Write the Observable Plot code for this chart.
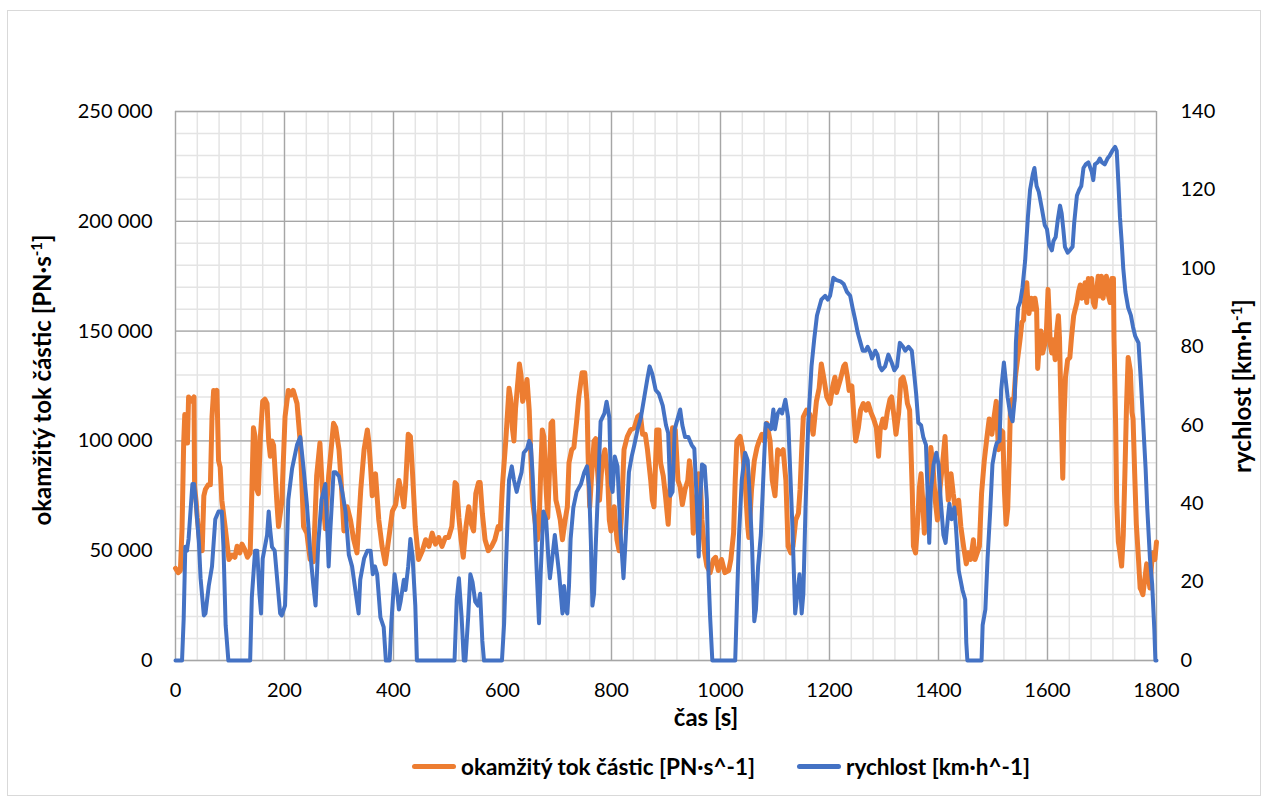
<!DOCTYPE html>
<html><head><meta charset="utf-8">
<script src="https://cdn.jsdelivr.net/npm/d3@7"></script>
<script src="https://cdn.jsdelivr.net/npm/@observablehq/plot@0.6"></script>
<style>
body{margin:0;background:#fff;font-family:Lato,"Open Sans",sans-serif;}
#wrap{position:relative;width:1263px;height:798px;overflow:hidden;}
#frame{position:absolute;left:7px;top:10px;width:1254px;height:786px;border:1px solid #d9d9d9;box-sizing:border-box;}
#chart{position:absolute;left:0;top:0;}
#legend{position:absolute;left:412px;top:752px;height:28px;display:flex;align-items:center;font-weight:bold;font-size:22.5px;color:#000;white-space:nowrap;}
#legend .sw{display:inline-block;width:44px;height:5px;border-radius:2.5px;margin-right:5px;}
#legend .item{display:flex;align-items:center;margin-right:42px;}
</style>
</head><body>
<div id="wrap"><div id="frame"></div><div id="chart"></div>
<div id="legend">
<div class="item"><span class="sw" style="background:#ED7D31"></span><span>okamžitý tok částic [PN·s^-1]</span></div>
<div class="item"><span class="sw" style="background:#4472C4"></span><span>rychlost [km·h^-1]</span></div>
</div></div>
<script>
// ---- data: okamžitý tok částic [PN·s^-1] ----
const flowT = [0,5,9,12,15,17,21,22,24,28,34,35,38,40,46,49,52,55,60,64,67,70,73,76,79,82,85,91,98,104,109,113,118,122,128,132,137,140,143,146,149,152,156,160,164,168,171,174,177,180,186,189,195,201,207,212,216,223,229,235,241,247,253,259,265,269,272,275,281,290,294,300,303,306,309,315,321,327,333,340,346,352,355,358,361,364,367,373,379,385,391,398,404,410,416,419,422,427,431,435,440,446,453,459,465,471,477,483,489,495,501,507,513,516,520,524,528,533,538,543,547,551,556,559,563,568,574,580,586,592,596,600,606,612,615,618,621,624,631,634,637,640,645,649,652,655,658,664,667,670,673,676,680,683,686,689,692,695,698,701,706,710,715,719,722,727,731,736,740,746,751,755,757,760,763,768,771,774,778,783,788,793,796,799,805,810,814,818,823,829,835,842,848,853,857,862,866,872,875,878,883,887,890,895,899,904,908,912,917,922,926,930,935,940,943,946,950,955,960,963,966,971,975,981,987,991,996,1002,1008,1015,1019,1024,1027,1030,1036,1040,1045,1050,1052,1057,1062,1067,1071,1076,1080,1085,1091,1095,1100,1105,1109,1115,1120,1124,1129,1133,1138,1143,1146,1149,1152,1158,1164,1170,1176,1181,1185,1190,1195,1201,1206,1210,1213,1220,1226,1229,1233,1236,1241,1245,1248,1253,1257,1262,1267,1271,1276,1281,1286,1290,1293,1298,1302,1306,1311,1314,1319,1322,1327,1331,1335,1339,1343,1347,1349,1352,1354,1358,1362,1365,1368,1371,1374,1377,1382,1386,1390,1394,1398,1403,1408,1412,1415,1418,1423,1427,1432,1437,1441,1446,1451,1455,1459,1464,1467,1471,1475,1479,1484,1489,1493,1498,1502,1506,1510,1514,1518,1521,1524,1527,1530,1532,1535,1538,1541,1544,1547,1550,1553,1556,1559,1562,1564,1566,1570,1574,1577,1580,1582,1585,1588,1591,1595,1598,1601,1603,1605,1608,1611,1614,1617,1620,1622,1625,1628,1630,1633,1637,1641,1644,1648,1651,1654,1657,1660,1663,1666,1669,1672,1675,1678,1681,1684,1687,1690,1693,1696,1699,1702,1705,1708,1712,1715,1718,1721,1722,1725,1727,1730,1733,1736,1739,1742,1745,1748,1752,1755,1757,1760,1763,1767,1770,1772,1775,1779,1782,1785,1788,1791,1794,1797,1800];
const flowV = [42000,40000,41000,60000,99000,112000,110000,99000,120000,118000,120000,79000,72000,65000,50000,50000,75000,78000,80000,80000,111000,123000,122000,123000,91000,88000,73000,61000,46000,48000,47000,52000,49000,53000,50000,47000,49000,76000,106000,102000,78000,76000,103000,118000,119000,117000,100000,93000,100000,98000,72000,61000,72000,111000,123000,121000,123000,117000,99000,61000,58000,46000,45000,84000,99000,80000,69000,60000,84000,108000,106000,96000,85000,73000,59000,70000,64000,55000,49000,78000,96000,105000,99000,88000,75000,82000,85000,64000,52000,44000,55000,68000,71000,82000,75000,70000,79000,103000,102000,85000,61000,46000,50000,55000,52000,58000,53000,56000,52000,56000,56000,61000,81000,80000,65000,55000,47000,61000,70000,62000,59000,76000,81000,81000,67000,55000,50000,52000,55000,61000,60000,80000,100000,124000,119000,106000,100000,115000,135000,130000,118000,121000,128000,114000,93000,73000,67000,55000,61000,85000,105000,102000,78000,65000,85000,108000,109000,88000,73000,70000,64000,55000,64000,70000,90000,96000,97000,109000,120000,131000,131000,118000,94000,70000,82000,100000,101000,88000,73000,91000,96000,84000,64000,59000,70000,55000,50000,65000,96000,102000,105000,106000,111000,112000,103000,103000,96000,82000,73000,70000,105000,105000,90000,84000,75000,62000,82000,106000,105000,82000,79000,71000,78000,82000,91000,85000,58000,70000,85000,82000,64000,49000,43000,40000,46000,47000,41000,46000,40000,41000,46000,58000,82000,100000,102000,97000,82000,61000,56000,78000,91000,97000,100000,103000,100000,108000,100000,82000,75000,96000,94000,96000,82000,52000,49000,52000,64000,67000,78000,96000,111000,114000,112000,103000,118000,124000,135000,128000,120000,117000,125000,129000,122000,128000,134000,135000,129000,123000,125000,110000,100000,106000,114000,117000,114000,117000,113000,110000,106000,93000,105000,110000,106000,113000,119000,120000,110000,103000,113000,128000,129000,125000,117000,114000,100000,76000,52000,49000,64000,79000,85000,73000,58000,67000,78000,97000,88000,73000,64000,79000,91000,102000,85000,73000,85000,76000,67000,73000,61000,52000,44000,49000,46000,55000,46000,49000,52000,76000,91000,102000,110000,103000,111000,118000,96000,105000,104000,77000,62000,69000,93000,116000,119000,118000,129000,135000,141000,147000,154000,155000,168000,172000,163000,158000,165000,160000,165000,160000,133000,144000,150000,140000,144000,150000,169000,158000,144000,140000,146000,137000,150000,157000,147000,113000,83000,108000,129000,137000,138000,147000,157000,160000,163000,168000,171000,165000,168000,172000,163000,174000,166000,174000,163000,161000,168000,175000,166000,175000,165000,171000,175000,166000,163000,174000,174000,147000,108000,72000,54000,49000,43000,57000,85000,116000,138000,132000,113000,110000,85000,62000,46000,33000,32000,30000,38000,44000,38000,33000,44000,49000,46000,54000];
// ---- data: rychlost [km·h^-1] ----
const speedT = [0,12,15,18,21,24,31,34,37,43,46,52,55,61,67,73,79,85,88,92,97,137,140,146,150,154,157,160,168,171,174,177,182,187,192,195,201,207,214,223,229,235,241,247,253,257,262,268,275,278,281,284,290,294,300,306,312,318,324,330,336,339,346,352,358,362,366,370,376,382,386,393,396,402,407,410,413,419,422,427,431,435,440,443,512,516,520,525,529,532,537,541,545,550,555,559,563,566,599,603,608,612,617,621,626,631,635,639,645,649,652,655,658,663,667,670,675,680,684,687,692,696,700,704,710,713,716,719,722,725,730,736,744,750,755,759,762,765,768,771,776,780,787,791,796,799,802,806,811,816,822,826,832,837,842,848,854,860,866,870,875,881,887,894,900,904,908,912,916,922,926,930,935,941,947,952,957,960,963,966,971,975,978,981,985,1027,1030,1034,1039,1045,1050,1054,1058,1062,1065,1069,1074,1079,1083,1088,1093,1097,1100,1105,1109,1113,1119,1124,1128,1132,1137,1141,1145,1149,1152,1156,1161,1167,1172,1177,1185,1192,1197,1201,1207,1213,1220,1226,1232,1238,1243,1247,1252,1257,1261,1266,1270,1275,1278,1284,1288,1292,1296,1302,1308,1314,1319,1324,1329,1335,1339,1345,1351,1354,1359,1363,1368,1372,1377,1380,1383,1386,1391,1396,1400,1404,1409,1413,1417,1420,1424,1429,1432,1437,1444,1449,1451,1453,1479,1481,1486,1490,1495,1499,1504,1507,1512,1515,1520,1523,1527,1532,1536,1540,1542,1546,1550,1554,1559,1564,1568,1573,1576,1580,1584,1590,1595,1599,1603,1608,1611,1615,1619,1623,1626,1629,1632,1637,1641,1646,1649,1654,1658,1662,1666,1670,1675,1681,1684,1687,1692,1696,1700,1705,1710,1714,1719,1724,1727,1730,1733,1736,1739,1743,1748,1753,1757,1761,1767,1771,1775,1780,1783,1788,1792,1796,1798,1800];
const speedV = [0,0,10.6,29,28,31,45,45,41,30,21,11.5,12,19,24,36,38,38,29,9,0,0,16,28,28,17,12,26,32,38,33,29,28,20,12,11.5,14,41,49,55,57,49,40,28,19,14,30,41,45,35,24,33,48,48,47,43,38,27,24,18,12,20.6,26,28,28,22,24,22,11,8.5,0,0,9.5,22,17,13,15,20.6,18,24,31,26.5,14,0,0,15.5,21,11,0,0,11,22,20,15,14,17,5,0,0,9.5,31,46,49.5,46,43,46,48,53,54,56,55,48,39,22,9.5,22,38,36,26.5,21,27,32,27,22,12,19,13,12,19,31,39,43,45,48,49.5,44,31,14,17,29,46,61,63,66,62,45,43,52,49.5,34,21,31,48,52,55,59,62,67,72,75,73,69,68,65,60,58,42,43,59,62,64,60,57,57,55,54,39,26.5,41,50,49.5,41,22,11,0,0,14,32,46,53,51,41,29,10,13,24,32,48,60.5,60,59,64,59,63,64,63,66.5,62,48,34,12,17,22,12,17,39,60.5,75,82,88,92,93,92,93,97.6,97,96.7,96,94,93,89.5,87,83.5,81,79,79,80,78.5,77,79,78,75,74,75,78,76,74,75,81,80,79,80,79,75,68,60.6,60,57,55,43,30,43,50,53,50,41,32,30,36,40,36,39,34,23,18,15.5,4.5,0,0,9,13,26,38.5,50,54,55.5,56,69,76,72,67,62.5,61,67,81,90,91.5,95,102,113,120,124,125.6,121,119.5,115,111,110,106,104.6,107,108,112.5,116,114,110,105.5,104,104.6,105.5,111.6,118.6,120,121,125.6,126.5,127,124.7,122.5,126.5,127,128,127,126.5,128,128.7,130,131,130,122,113,107,100,94,90,88,85,82.7,81,72,62,49,39,26,19.6,8,0,0];
// ---- axes ----
const timeTicks = [0,200,400,600,800,1000,1200,1400,1600,1800];
const flowTicks = [0,50000,100000,150000,200000,250000];
const speedTicks = [0,20,40,60,80,100,120,140];
const flowMax = 250000, speedMax = 140;

const k = flowMax / speedMax;
const flowData = flowT.map((t, i) => ({t, v: flowV[i]}));
const speedData = speedT.map((t, i) => ({t, v: speedV[i]}));
const fmt = d => d3.format(",")(d).replace(/,/g, "\u00a0");
const minorColor = "#e4e4e4", majorColor = "#a6a6a6";
const FONT = "Lato, 'Open Sans', sans-serif";

const chart = Plot.plot({
  width: 1263, height: 740,
  marginLeft: 175, marginRight: 107, marginTop: 111, marginBottom: 80,
  style: {fontFamily: FONT, fontSize: "20px", color: "#000", background: "transparent", overflow: "visible"},
  x: {domain: [0, 1800]},
  y: {domain: [0, flowMax]},
  marks: [
    Plot.gridX(d3.range(0, 1801, 40), {stroke: minorColor, strokeOpacity: 1, strokeWidth: 1.5}),
    Plot.gridY(d3.range(0, flowMax + 1, 10000), {stroke: minorColor, strokeOpacity: 1, strokeWidth: 1.5}),
    Plot.gridX(timeTicks, {stroke: majorColor, strokeOpacity: 1, strokeWidth: 1.3}),
    Plot.gridY(flowTicks, {stroke: majorColor, strokeOpacity: 1, strokeWidth: 1.3}),
    Plot.axisY(flowTicks, {anchor: "left", tickSize: 0, tickPadding: 23, tickFormat: fmt, label: null}),
    Plot.axisY(speedTicks.map(v => v * k), {anchor: "right", tickSize: 0, tickPadding: 24, tickFormat: d => String(Math.round(d / k)), label: null}),
    Plot.axisX(timeTicks, {anchor: "bottom", tickSize: 0, tickPadding: 22, tickFormat: d => String(d), label: null}),
    Plot.line(flowData, {x: "t", y: "v", stroke: "#ED7D31", strokeWidth: 5, strokeLinejoin: "round"}),
    Plot.line(speedData, {x: "t", y: d => d.v * k, stroke: "#4472C4", strokeWidth: 4, strokeLinejoin: "round"})
  ]
});
document.getElementById("chart").appendChild(chart);

const svg = d3.select(chart);
function title(x, y, rot, main, sup, tail) {
  const t = svg.append("text")
    .attr("transform", `translate(${x},${y}) rotate(${rot})`)
    .attr("text-anchor", "middle")
    .attr("font-weight", "bold").attr("font-size", 24)
    .attr("font-family", FONT)
    .attr("fill", "#000");
  t.append("tspan").text(main);
  if (sup) {
    t.append("tspan").attr("dy", -9).attr("font-size", 15).text(sup);
    t.append("tspan").attr("dy", 9).text(tail);
  }
}
title(51, 380, -90, "okamžitý tok částic [PN·s", "-1", "]");
title(1251, 386, -90, "rychlost [km·h", "-1", "]");
title(706, 726, 0, "čas [s]");
</script>
</body></html>
